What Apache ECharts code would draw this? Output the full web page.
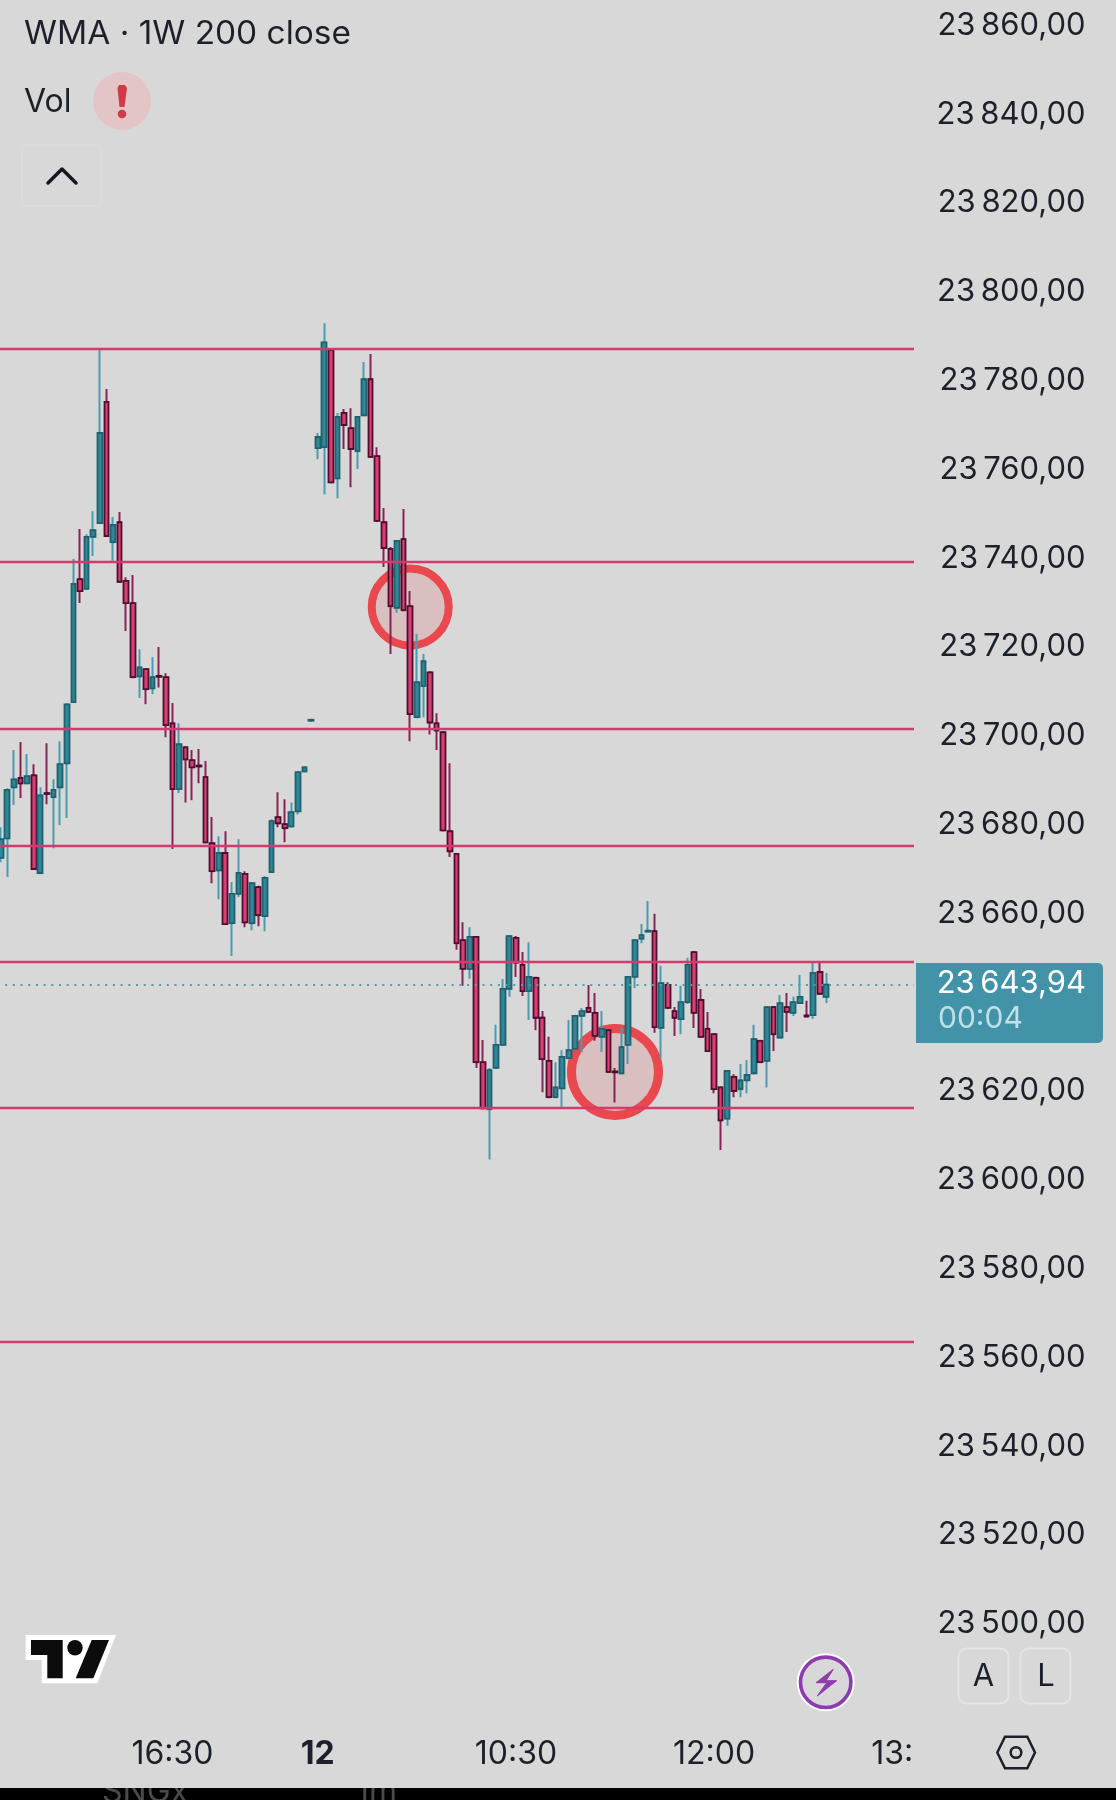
<!DOCTYPE html>
<html>
<head>
<meta charset="utf-8">
<title>WMA 1W 200 close</title>
<style>
  html, body { margin: 0; padding: 0; background: #000; }
  #chart { width: 1116px; height: 1800px; }
</style>
<script src="https://cdn.jsdelivr.net/npm/echarts@6/dist/echarts.min.js"></script>
</head>
<body>
<div id="chart"></div>
<script>
const opens = [
  23672.5,23676.9,23688.4,23690.5,23689.3,23691.1,23669.1,23687.1,23686.2,23688.4,
  23693.8,23707.6,23735.3,23733.1,23744.8,23747.9,23775.2,23743.6,23748.1,23734.9,
  23729.9,23713.4,23715.0,23710.7,23713.5,23713.2,23702.8,23688.0,23697.4,23694.5,
  23693.3,23690.7,23675.8,23669.7,23673.6,23657.8,23664.4,23668.9,23657.8,23665.9,
  23659.4,23669.3,23681.7,23680.1,23679.6,23683.0,23692.0,23703.4,23764.8,23765.0,
  23786.9,23758.0,23772.7,23769.3,23764.1,23772.2,23780.3,23763.0,23748.1,23742.1,
  23728.8,23744.3,23729.2,23704.2,23711.2,23714.3,23702.8,23700.8,23678.5,23673.4,
  23654.0,23647.5,23654.7,23626.5,23615.9,23625.2,23630.4,23643.0,23654.5,23648.4,
  23642.5,23645.5,23636.5,23626.8,23618.6,23620.6,23627.4,23629.5,23636.9,23638.7,
  23637.6,23632.2,23633.7,23624.4,23624.0,23630.4,23645.7,23654.3,23655.9,23656.0,
  23634.2,23643.9,23638.0,23636.2,23640.0,23651.3,23640.5,23634.0,23632.8,23620.8,
  23613.8,23623.2,23620.4,23622.4,23624.0,23631.3,23626.8,23638.9,23632.0,23638.9,
  23637.6,23639.8,23637.0,23637.1,23646.8,23641.2
]
const closes = [
  23676.7,23687.8,23690.2,23689.3,23690.9,23670.0,23686.6,23686.9,23687.8,23693.6,
  23707.1,23734.2,23732.6,23744.8,23746.3,23768.2,23745.0,23747.5,23734.7,23729.9,
  23713.2,23715.4,23710.5,23713.2,23713.3,23702.4,23688.0,23698.1,23694.7,23692.9,
  23693.1,23676.0,23669.5,23673.6,23657.6,23664.4,23669.1,23658.0,23666.8,23659.6,
  23668.0,23680.8,23680.3,23679.2,23682.8,23691.8,23692.9,23703.6,23767.3,23788.6,
  23757.1,23771.8,23770.0,23764.6,23771.8,23780.3,23762.8,23748.4,23742.3,23729.2,
  23743.9,23728.3,23704.9,23712.1,23716.8,23703.0,23701.2,23678.7,23674.0,23653.3,
  23647.5,23654.7,23626.5,23616.1,23624.7,23630.4,23643.0,23654.9,23648.9,23642.5,
  23645.7,23636.5,23627.2,23618.6,23620.8,23627.7,23629.2,23636.9,23638.0,23637.8,
  23632.4,23634.0,23624.3,23624.2,23629.9,23645.7,23654.0,23655.1,23656.1,23634.4,
  23644.3,23638.7,23636.5,23640.0,23648.4,23637.6,23632.2,23629.0,23620.4,23613.4,
  23624.5,23620.0,23622.4,23623.6,23631.7,23626.5,23638.9,23632.8,23639.8,23637.8,
  23640.0,23641.2,23636.8,23646.6,23641.9,23643.94
]
const highs = [
  23679.4,23688.2,23696.8,23698.6,23695.9,23693.6,23688.4,23698.3,23690.2,23698.8,
  23707.1,23739.8,23746.6,23745.4,23750.6,23787.1,23778.1,23749.3,23750.4,23735.7,
  23736.2,23719.5,23715.0,23717.7,23720.0,23714.1,23707.4,23702.8,23697.4,23696.8,
  23697.0,23694.3,23681.7,23677.4,23678.5,23667.1,23676.7,23669.5,23667.1,23666.2,
  23668.4,23681.2,23687.3,23685.7,23685.0,23692.0,23692.9,23703.6,23768.2,23792.9,
  23786.9,23772.7,23773.6,23773.8,23771.8,23784.2,23786.0,23765.0,23751.3,23742.5,
  23744.1,23751.1,23732.6,23722.9,23718.4,23714.3,23705.1,23700.8,23693.8,23673.4,
  23658.0,23656.9,23654.7,23631.5,23625.2,23634.9,23645.2,23654.9,23654.9,23651.3,
  23653.5,23645.5,23638.0,23632.2,23626.5,23629.2,23636.0,23636.9,23638.7,23643.9,
  23642.1,23638.0,23633.7,23625.2,23634.4,23645.7,23654.0,23657.6,23662.8,23659.9,
  23648.2,23644.5,23638.9,23643.7,23650.0,23651.3,23643.0,23637.8,23632.8,23620.8,
  23624.5,23623.8,23626.1,23627.0,23634.9,23631.3,23638.9,23638.9,23641.6,23642.1,
  23641.2,23646.1,23640.3,23648.9,23648.9,23646.6
]
const lows = [
  23671.5,23668.2,23684.4,23686.0,23689.3,23670.0,23668.8,23684.6,23674.7,23679.9,
  23681.5,23707.6,23729.9,23733.1,23740.5,23747.9,23745.0,23739.4,23734.7,23723.6,
  23713.2,23708.5,23707.1,23709.4,23710.9,23699.7,23674.5,23687.1,23685.0,23685.5,
  23689.3,23676.0,23666.8,23663.2,23657.6,23650.4,23663.7,23656.9,23656.2,23657.1,
  23656.0,23669.3,23679.4,23676.0,23679.4,23682.3,23692.0,23703.4,23762.3,23754.4,
  23757.1,23753.5,23764.6,23756.0,23760.1,23772.2,23762.8,23748.4,23738.0,23718.4,
  23727.7,23728.3,23698.8,23704.2,23704.2,23700.3,23696.8,23678.7,23672.7,23651.8,
  23643.7,23645.3,23625.2,23616.1,23604.6,23625.2,23630.4,23641.2,23645.7,23641.4,
  23636.0,23633.7,23619.7,23618.6,23618.6,23616.3,23627.4,23629.5,23628.8,23637.8,
  23631.3,23628.8,23624.3,23617.4,23624.0,23626.1,23643.2,23653.3,23655.9,23633.1,
  23627.4,23638.7,23632.4,23632.8,23639.6,23634.2,23632.2,23629.0,23619.5,23606.7,
  23612.2,23618.6,23618.6,23619.5,23624.0,23626.5,23620.8,23629.0,23632.0,23633.3,
  23636.9,23639.8,23636.8,23636.2,23641.9,23639.8
]

// 时间轴标签
const slotCount = 139
const timeSlots = [26, 48, 78, 108, 138]
const timeLabels = ['16:30', '12', '10:30', '12:00', '13:30']

// 手绘的水平线和圆圈
const levelPrices = [23787.1, 23739.2, 23701.6, 23675.3, 23649.0, 23616.2, 23563.6]
const lastPrice = 23643.94
const circleSlots = [62, 93]
const circlePrices = [23729.0, 23624.3]
const circleSizes = [77, 87]

const FONT = 'Inter'
const BG = '#d8d8d8'
const INK = '#1c202b'

const categories = []
for (let i = 0; i < slotCount; i++) {
  const k = timeSlots.indexOf(i)
  categories.push(k >= 0 ? timeLabels[k] : '')
}

const wickData = opens.map((o, i) => [o, closes[i], lows[i], highs[i]])
const bodyData = opens.map((o, i) => {
  const c = closes[i]
  return [o, c, Math.min(o, c), Math.max(o, c)]
})

function formatPrice(v) {
  const s = v.toFixed(2).replace('.', ',')
  return s.slice(0, 2) + '\u2009' + s.slice(2)
}

function text(x, y, str, size, color, align, extra) {
  return Object.assign({
    type: 'text',
    z: 60,
    silent: true,
    style: {
      x, y, text: str,
      fontFamily: FONT, fontSize: size, fill: color,
      align: align || 'left', verticalAlign: 'middle'
    }
  }, extra || {})
}

const graphics = [
  // 灰色画布，底部留出黑条
  { type: 'rect', z: -1, silent: true, shape: { x: 0, y: 0, width: 1116, height: 1788 }, style: { fill: BG } },
  { type: 'text', z: -2, silent: true, style: { x: 102, y: 1808, text: 'SNGx', fontFamily: FONT, fontSize: 32, fill: '#4a4a4a', verticalAlign: 'bottom' } },
  { type: 'text', z: -2, silent: true, style: { x: 356, y: 1808, text: '1m', fontFamily: FONT, fontSize: 32, fill: '#4a4a4a', verticalAlign: 'bottom' } },

  // 遮住右侧超出的线和被截断的时间标签
  { type: 'rect', z: 50, silent: true, shape: { x: 914, y: 0, width: 3, height: 1730 }, style: { fill: BG } },
  { type: 'rect', z: 50, silent: true, shape: { x: 914, y: 1730, width: 70, height: 50 }, style: { fill: BG } },

  // 当前价格框
  { type: 'rect', z: 55, silent: true, shape: { x: 916, y: 963, width: 187, height: 80, r: [0, 5, 5, 0] }, style: { fill: '#4393a8' } },
  text(1086, 984, formatPrice(lastPrice), 31, '#ffffff', 'right'),
  text(938, 1019, '00:04', 30, '#bfe0e8'),

  // 左上角图例
  text(24, 34, 'WMA · 1W 200 close', 32, INK, 'left', { scaleX: 1.045, originX: 24 }),
  text(24, 102, 'Vol', 32, INK),
  { type: 'circle', z: 60, silent: true, shape: { cx: 122, cy: 101, r: 29 }, style: { fill: '#e3c5c7' } },
  { type: 'polygon', z: 61, silent: true, shape: { points: [[117.5, 88], [119, 85], [125, 85], [127, 88], [124.5, 107], [119.5, 107]] }, style: { fill: '#cf3b46' } },
  { type: 'circle', z: 61, silent: true, shape: { cx: 122, cy: 114, r: 4.3 }, style: { fill: '#cf3b46' } },
  { type: 'rect', z: 60, silent: true, shape: { x: 22, y: 145, width: 79, height: 61, r: 5 }, style: { fill: 'none', stroke: '#dcdcdc', lineWidth: 1.5 } },
  { type: 'polyline', z: 60, silent: true, shape: { points: [[48, 183], [62, 169], [76, 183]] }, style: { fill: 'none', stroke: '#131722', lineWidth: 3.5, lineCap: 'round', lineJoin: 'round' } },

  // TradingView 标志
  { type: 'polygon', z: 60, silent: true, shape: { points: [[25.7, 1635], [116, 1635], [97.3, 1683.3], [41.7, 1683.3], [41.7, 1660], [25.7, 1660]] }, style: { fill: '#fff' } },
  { type: 'polygon', z: 61, silent: true, shape: { points: [[31, 1640], [62.7, 1640], [62.7, 1678.3], [47.3, 1678.3], [47.3, 1655], [31, 1655]] }, style: { fill: '#0c0c0c' } },
  { type: 'polygon', z: 61, silent: true, shape: { points: [[91.7, 1640], [109, 1640], [93.3, 1678.3], [75.7, 1678.3]] }, style: { fill: '#0c0c0c' } },
  { type: 'circle', z: 61, silent: true, shape: { cx: 75, cy: 1647.7, r: 7.7 }, style: { fill: '#0c0c0c' } },

  // 闪电按钮
  { type: 'circle', z: 60, silent: true, shape: { cx: 825.7, cy: 1682.3, r: 29 }, style: { fill: '#fff' } },
  { type: 'circle', z: 61, silent: true, shape: { cx: 825.7, cy: 1682.3, r: 25.2 }, style: { fill: BG, stroke: '#8e3bb0', lineWidth: 3.6 } },
  { type: 'polygon', z: 62, silent: true, shape: { points: [[833.3, 1669.3], [816, 1682.7], [826.7, 1682.7], [817.3, 1696], [836.7, 1680.7], [826, 1680.7]] }, style: { fill: '#8e3bb0', stroke: '#8e3bb0', lineWidth: 1, lineJoin: 'round' } },

  // A / L 按钮
  { type: 'rect', z: 60, silent: true, shape: { x: 958.5, y: 1648.5, width: 50, height: 55, r: 8 }, style: { fill: 'none', stroke: '#e4e4e4', lineWidth: 2 } },
  { type: 'rect', z: 60, silent: true, shape: { x: 1020.5, y: 1648.5, width: 50, height: 55, r: 8 }, style: { fill: 'none', stroke: '#e4e4e4', lineWidth: 2 } },
  text(983.5, 1677, 'A', 31, INK, 'center'),
  text(1046, 1677, 'L', 31, INK, 'center'),

  // 设置图标
  { type: 'polygon', z: 60, silent: true, shape: { points: [[997.3, 1752.5], [1005, 1736.7], [1027.3, 1736.7], [1035, 1752.5], [1027.3, 1768.3], [1005, 1768.3]] }, style: { fill: 'none', stroke: INK, lineWidth: 2.5 } },
  { type: 'circle', z: 60, silent: true, shape: { cx: 1016, cy: 1752.5, r: 5.3 }, style: { fill: 'none', stroke: INK, lineWidth: 2.5 } }
]

const option = {
  animation: false,
  backgroundColor: '#000',
  // 一根K线 6.605px，价格每 20 点 88.8px
  grid: { left: -2.6, top: -63.4, width: 6.605 * slotCount, height: 1776, outerBoundsMode: 'none' },
  xAxis: {
    type: 'category',
    data: categories,
    axisLine: { show: false },
    axisTick: { show: false },
    splitLine: { show: false },
    axisLabel: {
      interval: (i) => timeSlots.indexOf(i) >= 0,
      margin: 26,
      fontFamily: FONT,
      fontSize: 32,
      color: INK,
      formatter: (v) => (v === '12' ? '{b|12}' : v),
      rich: { b: { fontFamily: FONT, fontSize: 32, fontWeight: 'bold', color: INK } }
    }
  },
  yAxis: {
    type: 'value',
    position: 'right',
    min: 23480,
    max: 23880,
    interval: 20,
    axisLine: { show: false },
    axisTick: { show: false },
    splitLine: { show: false },
    axisLabel: {
      margin: 170,
      align: 'right',
      fontFamily: FONT,
      fontSize: 31,
      color: INK,
      formatter: (v) => (v === 23480 || v === 23880 ? '' : formatPrice(v))
    }
  },
  series: [
    {
      type: 'scatter',
      z: 1,
      silent: true,
      symbol: 'circle',
      data: circleSlots.map((s, i) => ({
        value: [s, circlePrices[i]],
        symbolSize: circleSizes[i],
        itemStyle: { color: 'rgba(232, 72, 78, 0.17)', borderColor: '#e8484e', borderWidth: i === 0 ? 8 : 9, opacity: 1 }
      }))
    },
    {
      type: 'line',
      z: 2,
      silent: true,
      data: [],
      markLine: {
        silent: true,
        symbol: 'none',
        label: { show: false },
        animation: false,
        data: levelPrices.map((p) => ({ yAxis: p, lineStyle: { color: '#d43a6c', width: 2.4, type: 'solid' } }))
          .concat([{ yAxis: lastPrice, lineStyle: { color: '#4f9fb0', width: 2, type: [2, 5.7] } }])
      }
    },
    {
      // 影线
      type: 'candlestick',
      z: 3,
      silent: true,
      barWidth: 2,
      data: wickData,
      itemStyle: { color: '#4a9bae', color0: '#8b2257', borderColor: '#4a9bae', borderColor0: '#8b2257', borderWidth: 2 }
    },
    {
      // 实体
      type: 'candlestick',
      z: 4,
      silent: true,
      barWidth: 5.2,
      data: bodyData,
      itemStyle: { color: '#2f8799', color0: '#dc3e74', borderColor: '#1f626e', borderColor0: '#4d0f30', borderWidth: 1.8 }
    }
  ],
  graphic: { elements: graphics }
}

const chart = echarts.init(document.getElementById('chart'))
chart.setOption(option)
</script>
</body>
</html>
